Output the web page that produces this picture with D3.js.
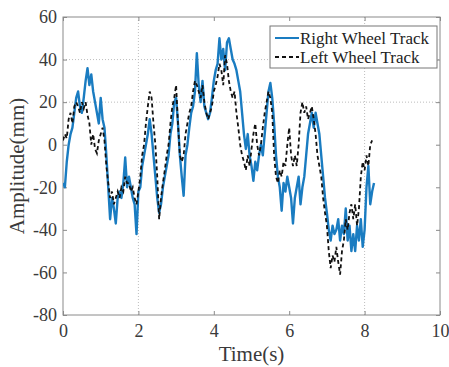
<!DOCTYPE html>
<html>
<head>
<meta charset="utf-8">
<script src="https://cdn.jsdelivr.net/npm/d3@7"></script>
<style>
  html, body { margin: 0; padding: 0; background: #fff; }
  svg { display: block; }
</style>
</head>
<body>
<svg id="chart" width="449" height="367"></svg>
<script>
// ---- data ----
const xTicks = [0, 2, 4, 6, 8, 10];
const yTicks = [-80, -60, -40, -20, 0, 20, 40, 60];
const xGrid = [2, 8];
const yGrid = [20, 40];
const seriesNames = ["Right Wheel Track", "Left Wheel Track"];

const timeRight = [0,0.05,0.1,0.15,0.2,0.25,0.3,0.35,0.4,0.45,0.5,0.55,0.6,0.65,0.7,0.75,0.8,0.85,0.9,0.95,
  1,1.05,1.1,1.15,1.2,1.25,1.3,1.35,1.4,1.45,1.5,1.55,1.6,1.65,1.7,1.75,1.8,1.85,1.9,1.95,
  2,2.05,2.1,2.15,2.2,2.25,2.3,2.35,2.4,2.45,2.5,2.55,2.6,2.65,2.7,2.75,2.8,2.85,2.9,2.95,
  3,3.05,3.1,3.15,3.2,3.25,3.3,3.35,3.4,3.45,3.5,3.55,3.6,3.65,3.7,3.75,3.8,3.85,3.9,3.95,
  4,4.05,4.1,4.15,4.2,4.25,4.3,4.35,4.4,4.45,4.5,4.55,4.6,4.65,4.7,4.75,4.8,4.85,4.9,4.95,
  5,5.05,5.1,5.15,5.2,5.25,5.3,5.35,5.4,5.45,5.5,5.55,5.6,5.65,5.7,5.75,5.8,5.85,5.9,5.95,
  6,6.05,6.1,6.15,6.2,6.25,6.3,6.35,6.4,6.45,6.5,6.55,6.6,6.65,6.7,6.75,6.8,6.85,6.9,6.95,
  7,7.05,7.1,7.15,7.2,7.25,7.3,7.35,7.4,7.45,7.5,7.55,7.6,7.65,7.7,7.75,7.8,7.85,7.9,7.95,
  8,8.05,8.1,8.15,8.2,8.25];
const rightTrack = [-18,-20,-8,0,5,8,15,22,25,18,15,22,30,36,28,33,25,20,15,10,
  22,12,8,-5,-20,-35,-25,-30,-37,-25,-22,-25,-18,-6,-20,-15,-20,-25,-28,-42,
  -22,-20,-10,-5,0,5,12,5,-5,-15,-25,-32,-28,-20,-15,-10,-5,5,10,20,
  22,10,-5,-15,-24,-5,0,8,15,18,25,43,28,20,30,18,15,12,15,22,
  30,35,38,50,40,45,35,48,50,45,40,38,35,30,25,15,5,-2,5,-5,
  -10,-17,-8,-12,-5,0,-5,5,15,25,29,22,10,-5,-15,-20,-31,-18,-22,-15,
  -20,-25,-37,-25,-20,-15,-28,-20,-15,-5,5,10,15,8,15,10,5,-5,-15,-25,
  -32,-40,-45,-38,-42,-40,-35,-45,-38,-42,-30,-45,-38,-50,-42,-50,-38,-45,-35,-48,
  -40,-20,-10,-28,-22,-18];

const timeLeft = [0,0.05,0.1,0.15,0.2,0.25,0.3,0.35,0.4,0.45,0.5,0.55,0.6,0.65,0.7,0.75,0.8,0.85,0.9,0.95,
  1,1.05,1.1,1.15,1.2,1.25,1.3,1.35,1.4,1.45,1.5,1.55,1.6,1.65,1.7,1.75,1.8,1.85,1.9,1.95,
  2,2.05,2.1,2.15,2.2,2.25,2.3,2.35,2.4,2.45,2.5,2.55,2.6,2.65,2.7,2.75,2.8,2.85,2.9,2.95,
  3,3.05,3.1,3.15,3.2,3.25,3.3,3.35,3.4,3.45,3.5,3.55,3.6,3.65,3.7,3.75,3.8,3.85,3.9,3.95,
  4,4.05,4.1,4.15,4.2,4.25,4.3,4.35,4.4,4.45,4.5,4.55,4.6,4.65,4.7,4.75,4.8,4.85,4.9,4.95,
  5,5.05,5.1,5.15,5.2,5.25,5.3,5.35,5.4,5.45,5.5,5.55,5.6,5.65,5.7,5.75,5.8,5.85,5.9,5.95,
  6,6.05,6.1,6.15,6.2,6.25,6.3,6.35,6.4,6.45,6.5,6.55,6.6,6.65,6.7,6.75,6.8,6.85,6.9,6.95,
  7,7.05,7.1,7.15,7.2,7.25,7.3,7.35,7.4,7.45,7.5,7.55,7.6,7.65,7.7,7.75,7.8,7.85,7.9,7.95,
  8,8.05,8.1,8.15,8.2];
const leftTrack = [2,5,3,12,15,10,18,20,18,15,20,17,20,14,10,0,5,-2,-4,2,
  5,8,2,-10,-18,-25,-22,-28,-25,-22,-25,-20,-22,-15,-18,-18,-22,-20,-25,-28,
  -22,-15,-5,0,10,18,25,22,10,0,-15,-35,-25,-18,-12,-5,0,10,18,22,
  28,10,-5,-8,-5,5,10,15,18,25,30,28,25,22,28,20,15,12,15,18,
  25,28,32,38,35,28,42,38,30,25,22,25,15,8,0,-5,-8,-12,-5,-10,
  -2,5,10,0,-5,0,8,15,20,25,22,15,-5,-15,-18,-12,-15,-8,-10,0,
  8,-5,-10,-5,-10,0,15,20,15,18,12,15,18,12,5,-5,-10,-15,-25,-32,
  -38,-50,-58,-52,-55,-48,-55,-61,-50,-45,-35,-40,-32,-28,-35,-28,-38,-30,-15,-8,
  -12,-5,-10,0,2];

// ---- layout ----
const W = 449, H = 367;
const m = { left: 63, right: 9, top: 17, bottom: 52 };
const iw = W - m.left - m.right, ih = H - m.top - m.bottom;
const axisColor = "#8a8a8a";
const textColor = "#3a3a3a";
const font = "'Liberation Serif', 'Times New Roman', serif";
const fmt = d => String(d);   // plain hyphen minus, as in the reference

const svg = d3.select("#chart");
const g = svg.append("g").attr("transform", `translate(${m.left},${m.top})`);

const x = d3.scaleLinear().domain([0, 10]).range([0, iw]);
const y = d3.scaleLinear().domain([-80, 60]).range([ih, 0]);

// grid
g.append("g").selectAll("line").data(xGrid).join("line")
  .attr("x1", d => x(d)).attr("x2", d => x(d)).attr("y1", 0).attr("y2", ih)
  .attr("stroke", "#bdbdbd").attr("stroke-width", 1).attr("stroke-dasharray", "1,2");
g.append("g").selectAll("line").data(yGrid).join("line")
  .attr("x1", 0).attr("x2", iw).attr("y1", d => y(d)).attr("y2", d => y(d))
  .attr("stroke", "#bdbdbd").attr("stroke-width", 1).attr("stroke-dasharray", "1,2");

// axes (ticks inward on all sides)
function styleAxis(sel) {
  sel.attr("font-family", font).attr("font-size", 18);
  sel.select(".domain").remove();
  sel.selectAll(".tick line").attr("stroke", axisColor);
  sel.selectAll(".tick text").attr("fill", textColor).style("font-family", font).style("font-size", "18px");
}
const xb = g.append("g").attr("transform", `translate(0,${ih})`)
  .call(d3.axisBottom(x).tickValues(xTicks).tickSize(-4).tickPadding(9).tickFormat(fmt));
styleAxis(xb);
const xt = g.append("g")
  .call(d3.axisTop(x).tickValues(xTicks).tickSize(-4).tickFormat(""));
styleAxis(xt);
const yl = g.append("g")
  .call(d3.axisLeft(y).tickValues(yTicks).tickSize(-4).tickPadding(6).tickFormat(fmt));
styleAxis(yl);
const yr = g.append("g").attr("transform", `translate(${iw},0)`)
  .call(d3.axisRight(y).tickValues(yTicks).tickSize(-4).tickFormat(""));
styleAxis(yr);

// frame
g.append("rect").attr("x", 0).attr("y", 0).attr("width", iw).attr("height", ih)
  .attr("fill", "none").attr("stroke", axisColor).attr("stroke-width", 1);

// lines
const clip = g.append("clipPath").attr("id", "clip").append("rect")
  .attr("width", iw).attr("height", ih);
const line = d3.line().x(d => x(d[0])).y(d => y(d[1]));
const rightData = timeRight.map((t, i) => [t, rightTrack[i]]);
const leftData = timeLeft.map((t, i) => [t, leftTrack[i]]);

g.append("path").datum(rightData).attr("d", line)
  .attr("fill", "none").attr("stroke", "#1a7cc1").attr("stroke-width", 2.4)
  .attr("stroke-linejoin", "round").attr("clip-path", "url(#clip)");
g.append("path").datum(leftData).attr("d", line)
  .attr("fill", "none").attr("stroke", "#111").attr("stroke-width", 1.8)
  .attr("stroke-dasharray", "4,3").attr("clip-path", "url(#clip)");

// legend
const lg = svg.append("g").attr("transform", "translate(270,26)");
lg.append("rect").attr("width", 167).attr("height", 42)
  .attr("fill", "#fff").attr("stroke", "#777").attr("stroke-width", 1);
const rows = [
  { name: seriesNames[0], color: "#1a7cc1", dash: null, w: 2 },
  { name: seriesNames[1], color: "#111", dash: "4,3", w: 1.8 }
];
rows.forEach((r, i) => {
  const cy = 12 + i * 19;
  lg.append("line").attr("x1", 5).attr("x2", 29).attr("y1", cy).attr("y2", cy)
    .attr("stroke", r.color).attr("stroke-width", r.w).attr("stroke-dasharray", r.dash);
  lg.append("text").attr("x", 30).attr("y", cy).attr("dy", "0.35em")
    .attr("fill", "#222").style("font-family", font).style("font-size", "17px")
    .text(r.name);
});

// axis titles
svg.append("text").attr("x", m.left + iw / 2).attr("y", 361)
  .attr("text-anchor", "middle").attr("fill", textColor)
  .style("font-family", font).style("font-size", "21px").text("Time(s)");
svg.append("text").attr("transform", `translate(24,${m.top + ih / 2}) rotate(-90)`)
  .attr("text-anchor", "middle").attr("fill", textColor)
  .style("font-family", font).style("font-size", "21px").text("Amplitude(mm)");
</script>
</body>
</html>
